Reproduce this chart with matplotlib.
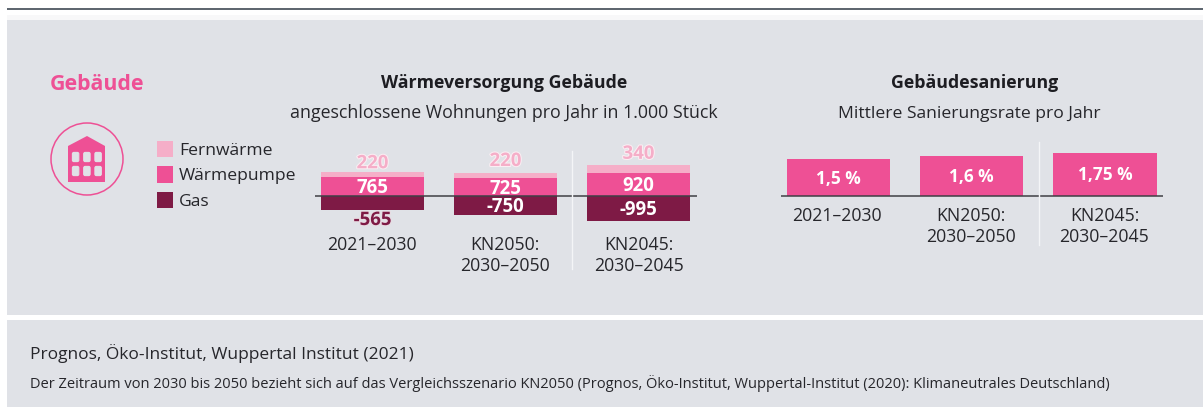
import matplotlib
matplotlib.use("Agg")
import matplotlib.pyplot as plt
import matplotlib.patheffects as pe
from matplotlib.patches import Rectangle, Circle, Polygon, FancyBboxPatch

# ---------- data ----------
periods = ["2021–2030", "KN2050:\n2030–2050", "KN2045:\n2030–2045"]
fernwaerme = [220, 220, 340]
waermepumpe = [765, 725, 920]
gas = [-565, -750, -995]
sanierung = [1.5, 1.6, 1.75]
sanierung_labels = ["1,5 %", "1,6 %", "1,75 %"]
legend_names = ["Fernwärme", "Wärmepumpe", "Gas"]

# ---------- style ----------
W, H = 1203, 407
BG = "#e0e2e7"
LIGHT = "#f5aec8"
PINK = "#ee5095"
DARK = "#7e1a45"
TXT = "#26262b"
FONT = "Open Sans"
plt.rcParams["font.family"] = [FONT, "DejaVu Sans"]

fig = plt.figure(figsize=(W / 100, H / 100), dpi=100, facecolor="white")
bg = fig.add_axes([0, 0, 1, 1])
bg.set_xlim(0, W)
bg.set_ylim(H, 0)
bg.axis("off")

def panel(x0, y0, x1, y1, c):
    bg.add_patch(Rectangle((x0, y0), x1 - x0, y1 - y0, fc=c, ec="none"))

panel(7, 8.2, W, 10, "#5f6770")
panel(7, 15, W, 20, "#f8f8f9")
panel(7, 20, W, 315, BG)
panel(7, 320, W, H, BG)

def txt(x, y, s, size, color=TXT, weight="normal", ha="center"):
    return bg.text(x, y, s, fontsize=size, color=color, fontweight=weight,
                   ha=ha, va="baseline")

txt(50, 90, "Gebäude", 15.3, PINK, "bold", "left")
txt(504, 88, "Wärmeversorgung Gebäude", 12.8, "#1d1d22", "bold")
txt(504, 117.5, "angeschlossene Wohnungen pro Jahr in 1.000 Stück", 12.75)
txt(975, 88, "Gebäudesanierung", 12.8, "#1d1d22", "bold")
txt(969, 117.5, "Mittlere Sanierungsrate pro Jahr", 12.6)
txt(30, 359, "Prognos, Öko-Institut, Wuppertal Institut (2021)", 12.5, ha="left")
txt(30, 388, "Der Zeitraum von 2030 bis 2050 bezieht sich auf das Vergleichsszenario "
    "KN2050 (Prognos, Öko-Institut, Wuppertal-Institut (2020): Klimaneutrales Deutschland)",
    10.5, ha="left")

# icon
bg.add_patch(Circle((87, 159), 36, fc="none", ec=PINK, lw=1.1))
bg.add_patch(Polygon([(68, 146), (87, 136), (105, 146), (105, 182), (68, 182)],
                     closed=True, fc=PINK, ec="none"))
for wx in (72, 83.3, 94.5):
    for wy in (152, 166):
        bg.add_patch(FancyBboxPatch((wx + 0.4, wy + 0.4), 6.4, 9.2,
                                    boxstyle="round,pad=0,rounding_size=1.5",
                                    fc=BG, ec=BG, lw=0.8))

# legend
for name, c, y, base in zip(legend_names, [LIGHT, PINK, DARK], [149, 174.5, 200], [155, 180, 206]):
    bg.add_patch(Rectangle((156.5, y - 8.2), 16.5, 16.5, fc=c, ec="none"))
    txt(179, base, name, 12.6, ha="left")

# ---------- chart axes, positioned in pixels ----------
def chart_axes(px0, px1, py0, py1, first_centre, spacing, base_y, unit_px):
    ax = fig.add_axes([px0 / W, 1 - py1 / H, (px1 - px0) / W, (py1 - py0) / H])
    ax.set_xlim((px0 - first_centre) / spacing, (px1 - first_centre) / spacing)
    ax.set_ylim((base_y - py1) / unit_px, (base_y - py0) / unit_px)
    ax.axis("off")
    ax.patch.set_alpha(0)
    return ax

def label(ax, i, y, s, dy, color="white", size=13.4, stroke=None):
    t = ax.annotate(s, (i, y), xytext=(0, dy), textcoords="offset pixels", ha="center",
                    va="baseline", color=color, fontsize=size, fontweight="bold", zorder=6)
    if stroke:
        t.set_path_effects([pe.withStroke(linewidth=1.5, foreground=stroke)])

def period_label(cx, y, s):
    for k, line in enumerate(s.split("\n")):
        txt(cx, y + 21 * k, line, 12.7)

BAR_W = 103 / 133
BASE_C = "#3f3f45"
x = range(3)

# left: stacked bars
axl = chart_axes(315, 697, 135, 285, 372.5, 133, 196.3, 0.025)
axl.bar(x, waermepumpe, BAR_W, color=PINK)
axl.bar(x, fernwaerme, BAR_W, bottom=waermepumpe, color=LIGHT)
axl.bar(x, gas, BAR_W, color=DARK)
axl.axhline(0, color=BASE_C, lw=1.1, zorder=5)
for i, gap in zip(x, [3.4, 6.7, 6]):
    label(axl, i, waermepumpe[i] + fernwaerme[i], str(fernwaerme[i]), gap,
          color=LIGHT, stroke="#fbeef3")
    label(axl, i, waermepumpe[i] / 2, str(waermepumpe[i]), -6.6)
    if i == 0:
        label(axl, i, gas[i], str(gas[i]), -14.6, color=DARK, stroke="#e9dbe2")
    else:
        label(axl, i, gas[i] / 2, str(gas[i]), -6.6)
for cx, s in zip([371.5, 505, 638.7], periods):
    period_label(cx, 250, s)

# right: rate bars
axr = chart_axes(780.7, 1162.7, 135, 205, 838.3, 133.3, 196.3, 25)
axr.bar(x, sanierung, BAR_W, color=PINK)
axr.axhline(0, color=BASE_C, lw=1.1, zorder=5)
for i in x:
    label(axr, i, sanierung[i] / 2, sanierung_labels[i], -6, size=12.4)
for cx, s in zip([837, 971, 1104.5], periods):
    period_label(cx, 220.7, s)

# separators
sep = fig.add_axes([0, 0, 1, 1], zorder=2)
sep.set_xlim(0, W)
sep.set_ylim(H, 0)
sep.axis("off")
sep.plot([572, 572], [151, 269], color="#f4f5f7", lw=1)
sep.plot([1038.5, 1038.5], [142, 245], color="#f4f5f7", lw=1)

fig.savefig("out.png", dpi=100, facecolor="white")
